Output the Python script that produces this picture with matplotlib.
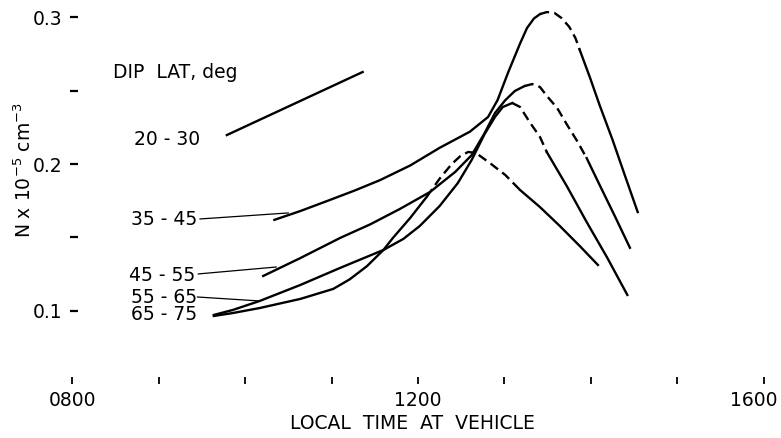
import numpy as np
import matplotlib.pyplot as plt
import matplotlib.transforms as mtransforms

# local time (hours) and density N x 1e-5 cm^-3
t_20_30 = [9.79, 11.36]
n_20_30 = [0.2197, 0.2626]

t_35_45 = [10.34, 10.64, 10.98, 11.27, 11.56, 11.91, 12.25, 12.60, 12.81, 12.92,
           13.04, 13.18, 13.26, 13.34, 13.41, 13.49, 13.58, 13.66, 13.75, 13.82,
           13.87, 13.99, 14.10, 14.25, 14.39, 14.54]
n_35_45 = [0.162, 0.168, 0.1755, 0.182, 0.189, 0.199, 0.211, 0.222, 0.232, 0.2435,
           0.262, 0.282, 0.2925, 0.299, 0.302, 0.3034, 0.3027, 0.2993, 0.2932, 0.2857,
           0.2776, 0.2585, 0.240, 0.2163, 0.1925, 0.1673]

t_45_55 = [10.21, 10.64, 11.10, 11.45, 11.79, 12.14, 12.43, 12.62, 12.77, 12.89,
           13.01, 13.12, 13.23, 13.32, 13.41, 13.49, 13.61, 13.72, 13.84, 13.95,
           14.10, 14.28, 14.45]
n_45_55 = [0.1238, 0.136, 0.1497, 0.159, 0.1694, 0.181, 0.1946, 0.206, 0.221, 0.2347,
           0.2435, 0.2497, 0.253, 0.2544, 0.2524, 0.2463, 0.238, 0.227, 0.2156, 0.204,
           0.1857, 0.164, 0.143]

t_55_65 = [9.64, 9.86, 10.17, 10.64, 11.10, 11.60, 11.83, 12.02, 12.25, 12.46,
           12.62, 12.77, 12.89, 12.98, 13.09, 13.18, 13.29, 13.41, 13.49, 13.72,
           13.95, 14.19, 14.42]
n_55_65 = [0.0973, 0.1007, 0.1068, 0.1177, 0.1293, 0.1415, 0.149, 0.1578, 0.1714, 0.187,
           0.2027, 0.2204, 0.232, 0.2388, 0.2415, 0.2388, 0.2286, 0.2184, 0.208, 0.185,
           0.1605, 0.136, 0.1109]

t_65_75 = [9.64, 9.86, 10.17, 10.64, 11.02, 11.21, 11.41, 11.60, 11.71, 11.91,
           12.10, 12.25, 12.39, 12.49, 12.58, 12.67, 12.83, 13.01, 13.18, 13.41,
           13.64, 13.87, 14.08]
n_65_75 = [0.0966, 0.0986, 0.102, 0.1082, 0.115, 0.1215, 0.1305, 0.1415, 0.1497, 0.1633,
           0.1776, 0.19, 0.200, 0.2054, 0.2082, 0.2075, 0.2007, 0.1925, 0.1823, 0.1707,
           0.1578, 0.1442, 0.1313]

x_ticks = [8, 9, 10, 11, 12, 13, 14, 15, 16]
x_ticklabels = ['0800', '', '', '', '1200', '', '', '', '1600']
y_ticks = [0.1, 0.15, 0.2, 0.25, 0.3]
y_ticklabels = ['0.1', '', '0.2', '', '0.3']

FS = 13.5
LW = 1.7
DASH = (0, (4, 2.2))


def draw_curve(ax, t, n, d0, d1):
    # solid rise, dashed top, solid fall
    ax.plot(t[:d0+1], n[:d0+1], color='k', lw=LW)
    ax.plot(t[d0:d1+1], n[d0:d1+1], color='k', lw=LW, linestyle=DASH)
    ax.plot(t[d1:], n[d1:], color='k', lw=LW)


fig = plt.figure(figsize=(7.81, 4.38), dpi=100)
ax = fig.add_axes([70/781, 54/438, (772.65-70)/781, 384/438])
ax.set_xlim(8 - 2/86.5, 16.1)
ax.set_ylim(0.0503, 0.3116)
for s in ax.spines.values():
    s.set_visible(False)

ax.plot(t_20_30, n_20_30, color='k', lw=LW)
draw_curve(ax, t_35_45, n_35_45, 14, 20)
draw_curve(ax, t_45_55, n_45_55, 12, 19)
draw_curve(ax, t_55_65, n_55_65, 14, 18)
draw_curve(ax, t_65_75, n_65_75, 10, 18)

# leader lines from labels
ax.plot([9.48, 10.50], [0.1626, 0.1667], color='k', lw=0.9)
ax.plot([9.46, 10.36], [0.1252, 0.1299], color='k', lw=0.9)
ax.plot([9.45, 10.17], [0.1095, 0.1068], color='k', lw=0.9)

ax.text(8.47, 0.2626, 'DIP  LAT, deg', fontsize=FS, ha='left', va='center')
ax.text(9.48, 0.2170, '20 - 30', fontsize=FS, ha='right', va='center')
ax.text(9.45, 0.1619, '35 - 45', fontsize=FS, ha='right', va='center')
ax.text(9.42, 0.1238, '45 - 55', fontsize=FS, ha='right', va='center')
ax.text(9.45, 0.1095, '55 - 65', fontsize=FS, ha='right', va='center')
ax.text(9.45, 0.0973, '65 - 75', fontsize=FS, ha='right', va='center')

ax.set_xticks(x_ticks)
ax.set_xticklabels(x_ticklabels)
ax.set_yticks(y_ticks)
ax.set_yticklabels(y_ticklabels)
ax.tick_params(axis='x', direction='in', length=5, width=1.3, pad=5, labelsize=FS)
ax.tick_params(axis='y', direction='in', length=5.8, width=1.6, pad=5.8, labelsize=FS)

# last x label sits a little left of its tick, as in the original
lbl = ax.get_xticklabels()[-1]
lbl.set_transform(lbl.get_transform() +
                  mtransforms.ScaledTranslation(-10/100, 0, fig.dpi_scale_trans))

fig.text(412/781, 1 - 423.5/438, 'LOCAL  TIME  AT  VEHICLE', fontsize=FS,
         ha='center', va='center')
fig.text(24/781, 1 - 170/438, r'N x 10$^{-5}$ cm$^{-3}$', fontsize=FS,
         ha='center', va='center', rotation=90)

fig.savefig('out.png', dpi=100)
